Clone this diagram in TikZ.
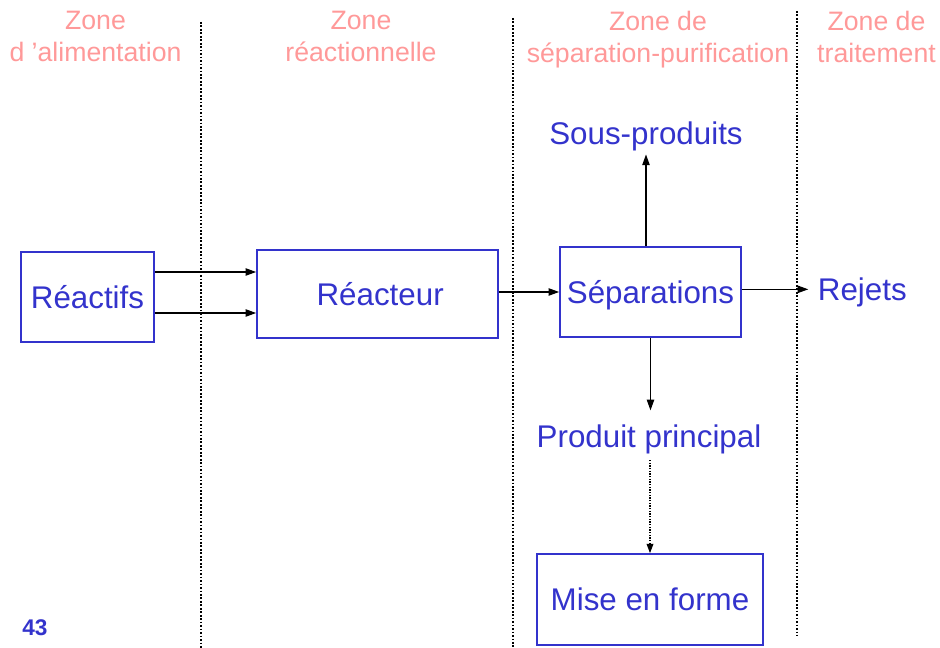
\documentclass[tikz,border=0pt]{standalone}
\usepackage{fontspec}
\setmainfont{Liberation Sans}
\usetikzlibrary{arrows.meta}
\definecolor{bl}{RGB}{51,51,204}
\definecolor{pk}{RGB}{255,153,153}
\begin{document}
\begin{tikzpicture}[x=0.75pt,y=-0.75pt,
  box/.style={draw=bl,line width=1.2pt,text=bl,font=\fontsize{23.5}{28}\selectfont,
    text height=17pt,text depth=0pt,inner sep=0pt},
  lbl/.style={text=bl,font=\fontsize{23.5}{28}\selectfont,inner sep=2pt},
  hdr/.style={text=pk,font=\fontsize{20}{24}\selectfont,align=center,anchor=north,inner sep=0pt},
  arr/.style={-{Triangle[length=8pt,width=5.5pt]},line width=1pt},
  zoneline/.style={line width=1.4pt,dash pattern=on 1.3pt off 1.3pt},
  dotarr/.style={-{Triangle[length=7pt,width=5pt]},line width=1pt,dash pattern=on 1pt off 1pt}]
\useasboundingbox (0,0) rectangle (940,648);

% zone separators
\draw[zoneline] (201,22) -- (201,648);
\draw[zoneline] (513,18) -- (513,648);
\draw[zoneline] (797,11) -- (797,636);

% headers
\node[hdr] (h1) at (95.5,11) {Zone\\d ’alimentation};
\node[hdr] (h2) at (361,11) {Zone\\réactionnelle};
\node[hdr] (h3) at (658,11) {Zone de\\séparation-purification};
\node[hdr] (h4) at (876.5,11) {Zone de\\traitement};

% boxes
\node[box,minimum width=99.75pt,minimum height=67.5pt] (rea) at (87.5,297) {Réactifs};
\node[box,minimum width=180.75pt,minimum height=66pt] (reac) at (377.5,294) {\hspace*{4pt}Réacteur};
\node[box,minimum width=135.75pt,minimum height=67.5pt] (sep) at (650.5,292) {Séparations};
\node[box,minimum width=169.5pt,minimum height=68.25pt] (mise) at (650,599.5) {Mise en forme};

% free labels
\node[lbl,anchor=base] (sous) at (646,145) {Sous-produits};
\node[lbl,anchor=base] (prod) at (649,448) {Produit principal};
\node[lbl,anchor=base west] (rej) at (815,301) {Rejets};

% number
\node[text=bl,font=\fontsize{17}{20}\selectfont\bfseries,anchor=base west,inner sep=0pt] (num) at (22,636) {43};

% connectors
\draw[arr] ([yshift=18.75pt]rea.east) -- ([yshift=18.75pt]rea.east -| reac.west);
\draw[arr] ([yshift=-12pt]rea.east) -- ([yshift=-12pt]rea.east -| reac.west);
\draw[arr] (reac.east |- sep.west) -- (sep.west);
\draw[arr] (sous.south |- sep.north) -- (sous.south);
\draw[arr,shorten >=5pt] ([yshift=2pt]sep.east) -- ([yshift=2pt]sep.east -| rej.west);
\draw[arr,shorten >=9pt] (sep.south) -- (sep.south |- prod.north);
\draw[dotarr,shorten <=2pt] (mise.north |- prod.south) -- (mise.north);
\end{tikzpicture}
\end{document}
